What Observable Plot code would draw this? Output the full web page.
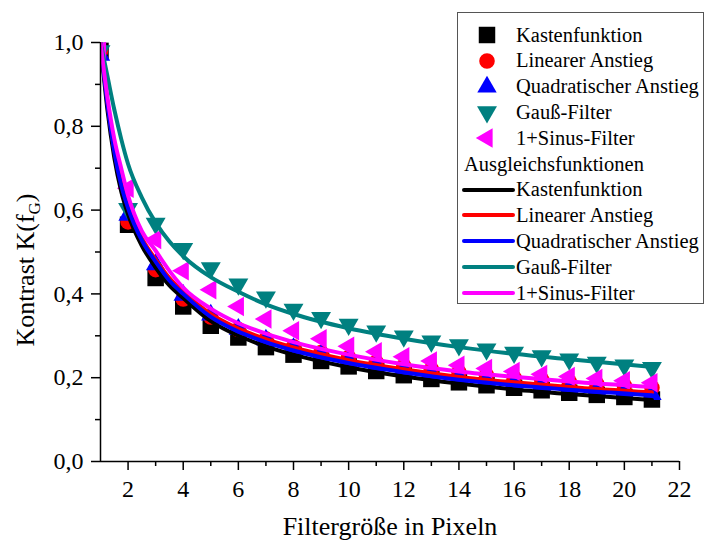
<!DOCTYPE html>
<html><head><meta charset="utf-8">
<script src="https://cdn.jsdelivr.net/npm/d3@7"></script>
<script src="https://cdn.jsdelivr.net/npm/@observablehq/plot@0.6"></script>
<style>
body{margin:0;background:#fff;}
#wrap{position:relative;width:704px;height:546px;font-family:"Liberation Serif",Tinos,"Times New Roman",Times,"DejaVu Serif",serif;}
#legend{position:absolute;left:457px;top:12px;width:247px;height:292px;border:1px solid #555;background:#fff;box-sizing:border-box;padding-top:9px;}
.row{height:25.8px;display:flex;align-items:center;font-size:20.5px;line-height:1;white-space:nowrap;}
.row svg{flex:none;}
.hdr{padding-left:6px;}
</style>
</head><body>
<div id="wrap"><div id="legend"></div></div>
<script>
// ---- data ----
const xValues = [1,2,3,4,5,6,7,8,9,10,11,12,13,14,15,16,17,18,19,20,21];
const kasten    = [0.98,0.565,0.438,0.370,0.324,0.296,0.273,0.255,0.240,0.227,0.216,0.206,0.197,0.189,0.182,0.176,0.170,0.164,0.159,0.154,0.148];
const linear    = [0.98,0.572,0.458,0.388,0.345,0.315,0.292,0.274,0.260,0.248,0.237,0.228,0.220,0.213,0.206,0.200,0.195,0.190,0.185,0.181,0.176];
const quadrat   = [0.97,0.588,0.470,0.397,0.350,0.316,0.290,0.270,0.254,0.240,0.228,0.218,0.209,0.201,0.194,0.187,0.181,0.175,0.170,0.165,0.160];
const gauss     = [0.98,0.603,0.568,0.508,0.462,0.423,0.392,0.363,0.343,0.327,0.311,0.299,0.287,0.278,0.268,0.260,0.252,0.244,0.236,0.230,0.224];
const sinus     = [0.98,0.652,0.530,0.455,0.410,0.370,0.340,0.312,0.293,0.275,0.262,0.250,0.240,0.230,0.222,0.215,0.208,0.203,0.198,0.193,0.188];

const fitX       = [1,1.25,1.5,1.75,2,2.5,3,3.5,4,5,6,7,8,10,12,14,16,18,21];
const fitKasten  = [1.0,0.84,0.725,0.645,0.59,0.515,0.463,0.42,0.39,0.335,0.300,0.275,0.255,0.225,0.203,0.186,0.172,0.161,0.147];
const fitLinear  = [1.0,0.86,0.745,0.665,0.61,0.533,0.482,0.438,0.405,0.352,0.317,0.292,0.272,0.242,0.220,0.202,0.189,0.178,0.165];
const fitQuadrat = [1.0,0.855,0.74,0.66,0.605,0.528,0.477,0.432,0.40,0.345,0.310,0.285,0.265,0.235,0.213,0.195,0.182,0.171,0.158];
const fitGauss   = [1.0,0.92,0.84,0.77,0.71,0.63,0.57,0.525,0.49,0.44,0.405,0.375,0.352,0.318,0.293,0.273,0.257,0.244,0.226];
const fitSinus   = [1.0,0.87,0.77,0.70,0.635,0.55,0.503,0.455,0.415,0.365,0.330,0.305,0.285,0.255,0.232,0.215,0.202,0.191,0.178];

const seriesNames = ["Kastenfunktion","Linearer Anstieg","Quadratischer Anstieg","Gauß-Filter","1+Sinus-Filter"];
const xMajor = [2,4,6,8,10,12,14,16,18,20,22];
const xMinor = [3,5,7,9,11,13,15,17,19,21];
const yMajor = [0,0.2,0.4,0.6,0.8,1.0];
const yMinor = [0.1,0.3,0.5,0.7,0.9];

// ---- styles ----
const FONT = "'Liberation Serif',Tinos,'Times New Roman',Times,'DejaVu Serif',serif";
const sqrt3 = Math.sqrt(3);
const triDown = {draw(ctx, size){ const y = Math.sqrt(size/(sqrt3*3)); ctx.moveTo(0,2*y); ctx.lineTo(-sqrt3*y,-y); ctx.lineTo(sqrt3*y,-y); ctx.closePath(); }};
const triLeft = {draw(ctx, size){ const y = Math.sqrt(size/(sqrt3*3)); ctx.moveTo(-2*y,0); ctx.lineTo(y,-sqrt3*y); ctx.lineTo(y,sqrt3*y); ctx.closePath(); }};
const colors = ["#000000","#ff0000","#0000ff","#008080","#ff00ff"];
const symbols = [d3.symbolSquare, d3.symbolCircle, d3.symbolTriangle, triDown, triLeft];
const radii = [9.3, 7.8, 7.2, 7.4, 7.2];

const pointSeries = [kasten, linear, quadrat, gauss, sinus];
const fitSeries = [fitKasten, fitLinear, fitQuadrat, fitGauss, fitSinus];

const pointMarks = pointSeries.map((vals, i) =>
  Plot.dot(xValues.map((x, j) => ({x, y: vals[j]})), {x: "x", y: "y", symbol: symbols[i], r: radii[i], fill: colors[i], stroke: "none", clip: true}));
const lineMarks = fitSeries.map((vals, i) =>
  Plot.line(fitX.map((x, j) => ({x, y: vals[j]})), {x: "x", y: "y", stroke: colors[i], strokeWidth: 4, curve: "monotone-x", clip: true}));

const comma = d => d.toFixed(1).replace(".", ",");

const svg = Plot.plot({
  width: 704, height: 546,
  marginLeft: 100, marginRight: 25, marginTop: 42, marginBottom: 85,
  x: {domain: [1, 22]},
  y: {domain: [0, 1]},
  style: {fontFamily: FONT, fontSize: "24px", color: "black", background: "white", overflow: "visible"},
  marks: [
    Plot.axisX({ticks: xMajor, tickSize: 9, tickPadding: 9, tickFormat: d => String(d), label: null, strokeWidth: 1.5}),
    Plot.axisX({ticks: xMinor, tickSize: 5, tickFormat: () => "", label: null, strokeWidth: 1.5}),
    Plot.axisY({ticks: yMajor, tickSize: 9, tickPadding: 8, tickFormat: comma, label: null, strokeWidth: 1.5}),
    Plot.axisY({ticks: yMinor, tickSize: 5, tickFormat: () => "", label: null, strokeWidth: 1.5}),
    ...pointMarks,
    ...lineMarks,
    Plot.ruleX([1], {strokeWidth: 1.5}),
    Plot.ruleY([0], {strokeWidth: 1.5})
  ]
});

const s = d3.select(svg);
s.append("text").attr("x", 390).attr("y", 535).attr("text-anchor", "middle")
  .attr("font-size", 26).attr("font-family", FONT).attr("fill", "black").text("Filtergröße in Pixeln");
const yt = s.append("text").attr("transform", "translate(34,270) rotate(-90)")
  .attr("text-anchor", "middle").attr("font-size", 26).attr("font-family", FONT).attr("fill", "black");
yt.append("tspan").text("Kontrast K(f");
yt.append("tspan").attr("font-size", 17).attr("dy", 6).text("G");
yt.append("tspan").attr("dy", -6).text(")");

const wrap = document.getElementById("wrap");
wrap.insertBefore(svg, wrap.firstChild);

// ---- legend ----
const legend = d3.select("#legend");
seriesNames.forEach((name, i) => {
  const row = legend.append("div").attr("class", "row");
  const sv = row.append("svg").attr("width", 58).attr("height", 26);
  sv.append("path").attr("transform", "translate(29,13)")
    .attr("d", d3.symbol().type(symbols[i]).size(Math.PI * radii[i] * radii[i])())
    .attr("fill", colors[i]);
  row.append("span").text(name);
});
legend.append("div").attr("class", "row hdr").text("Ausgleichsfunktionen");
seriesNames.forEach((name, i) => {
  const row = legend.append("div").attr("class", "row");
  const sv = row.append("svg").attr("width", 58).attr("height", 26);
  sv.append("line").attr("x1", 6).attr("x2", 55).attr("y1", 13).attr("y2", 13)
    .attr("stroke", colors[i]).attr("stroke-width", 4).attr("stroke-linecap", "round");
  row.append("span").text(name);
});
</script>
</body></html>
